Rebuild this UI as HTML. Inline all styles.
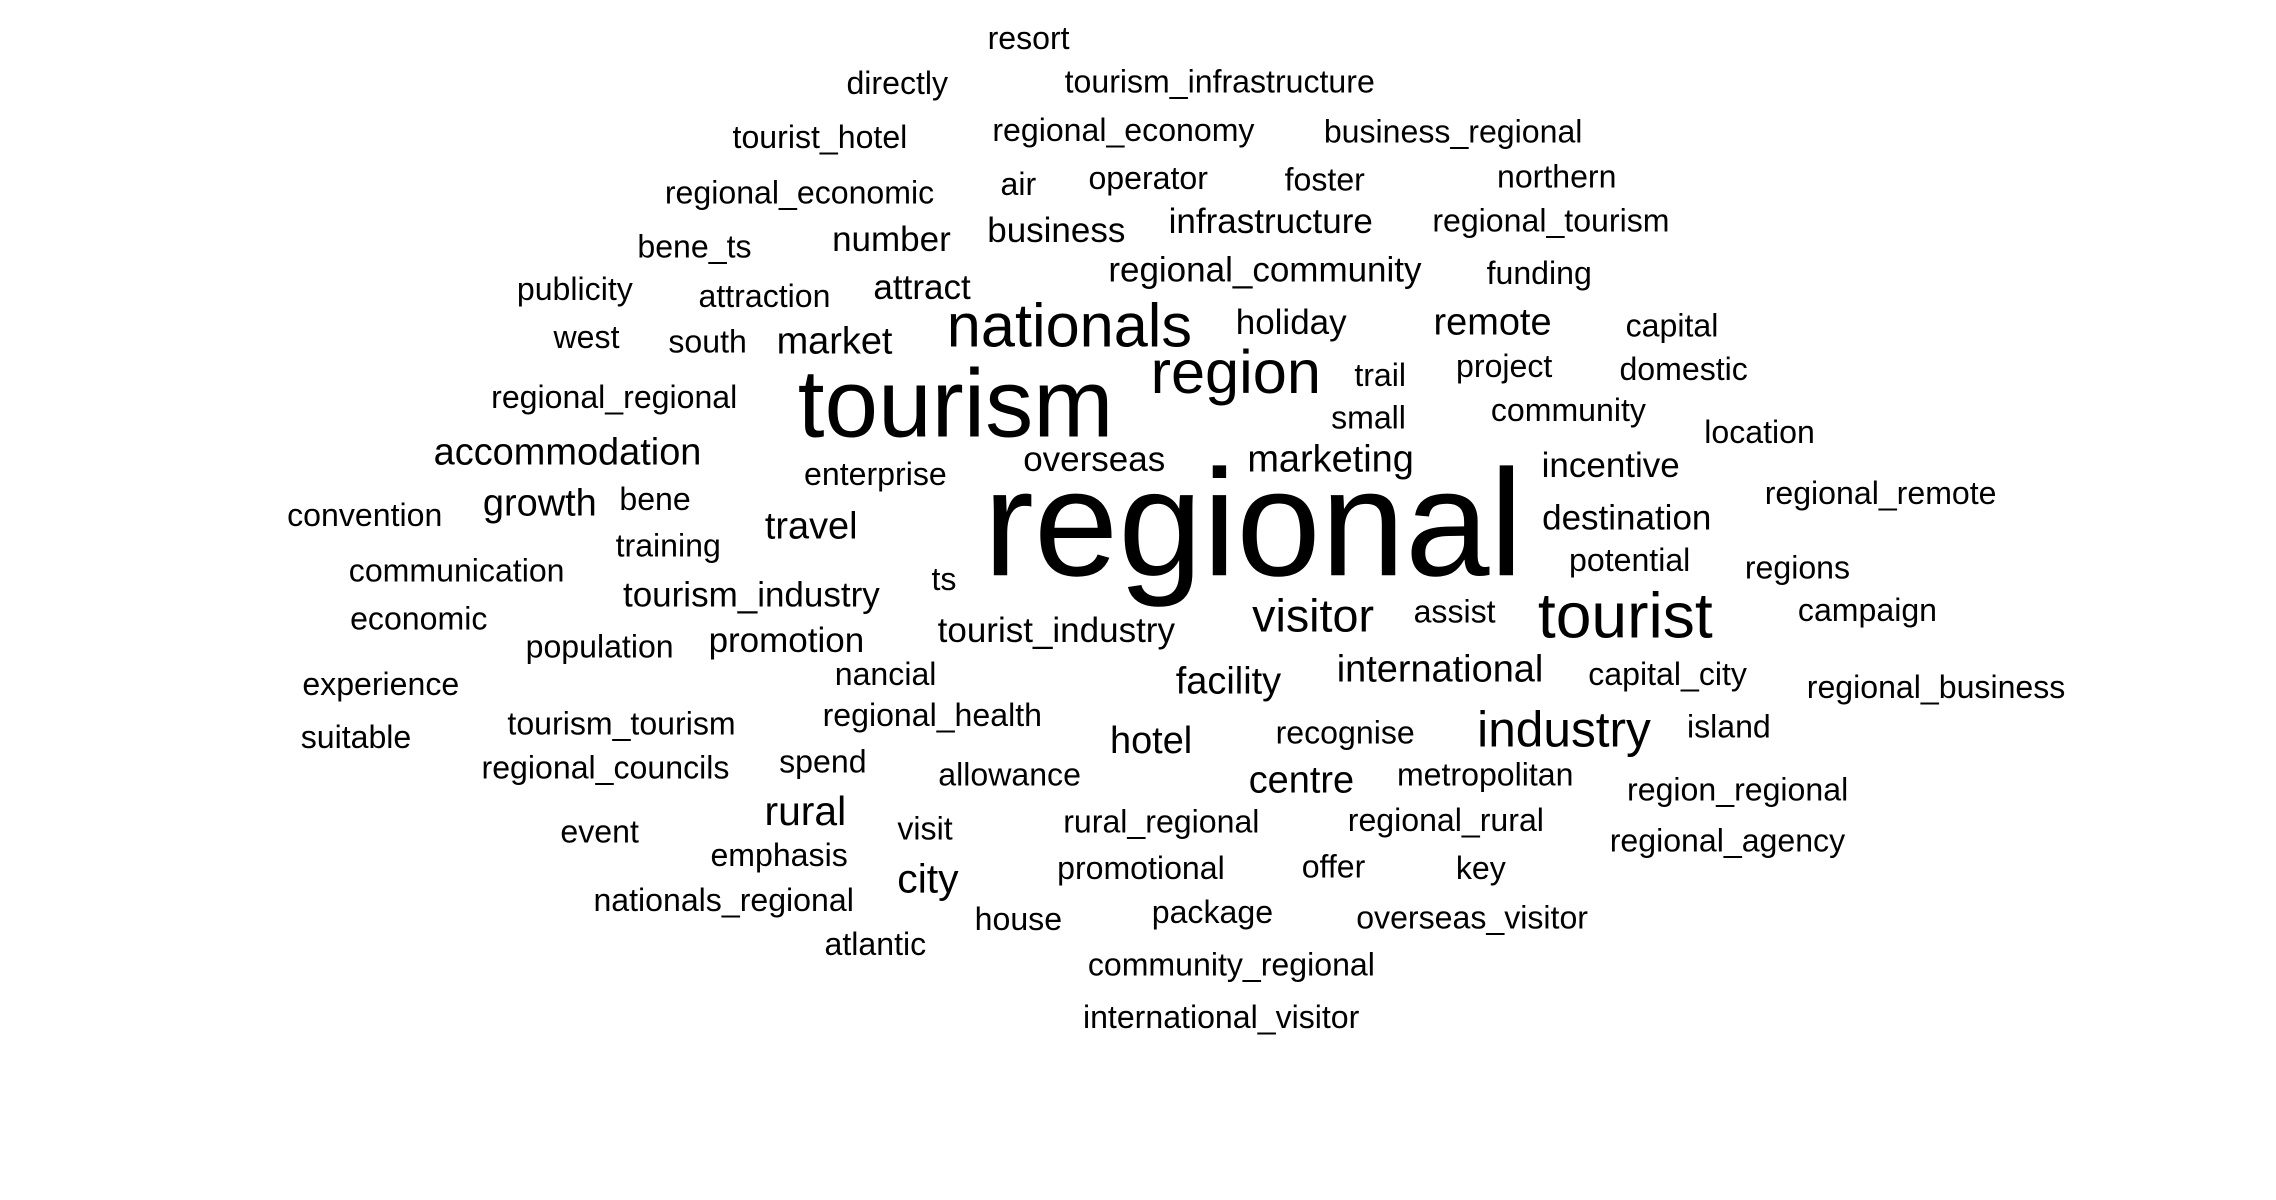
<!DOCTYPE html>
<html><head><meta charset="utf-8"><style>
html,body{margin:0;padding:0;background:#fff;width:2276px;height:1200px;overflow:hidden}
svg{display:block}
text{font-family:"Liberation Sans",sans-serif;fill:#000}
</style></head><body>
<svg width="2276" height="1200" viewBox="0 0 1560 822.5" preserveAspectRatio="none" xmlns="http://www.w3.org/2000/svg"><g id="cloud" transform="translate(-5,-3)"></g></svg>
<script>
const words = ["resort","directly","tourism_infrastructure","tourist_hotel","regional_economy","business_regional","regional_economic","air","operator","foster","northern","bene_ts","number","business","infrastructure","regional_tourism","publicity","attraction","attract","regional_community","funding","west","south","market","nationals","holiday","remote","capital","regional_regional","tourism","region","trail","project","domestic","small","community","location","accommodation","enterprise","overseas","marketing","incentive","convention","growth","bene","regional","destination","regional_remote","travel","training","potential","regions","communication","ts","tourism_industry","economic","population","promotion","tourist_industry","visitor","assist","tourist","campaign","experience","nancial","facility","international","capital_city","regional_business","suitable","tourism_tourism","regional_health","hotel","recognise","industry","island","regional_councils","spend","allowance","centre","metropolitan","region_regional","rural","event","visit","rural_regional","regional_rural","regional_agency","emphasis","city","promotional","offer","key","nationals_regional","house","package","overseas_visitor","atlantic","community_regional","international_visitor"];
const weights = [22,22,22,22,22,22,22,22,22,22,22,22,24,24,24,22,22,22,24,24,22,22,22,26,42,24,26,22,22,66,42,22,22,22,22,22,22,26,22,24,26,24,22,26,22,104,24,22,26,22,22,22,22,22,24,22,22,24,24,32,22,44,22,22,22,26,26,22,22,22,22,22,26,22,34,22,22,22,22,26,22,22,28,22,22,22,22,22,22,28,22,22,22,22,22,22,22,22,22,22];
const layoutX = [710,620,841,567,775,1001,553,703,792,913,1072,481,616,729,876,1068,399,529,637,872,1060,407,490,577,738,890,1028,1151,426,660,852,951,1036,1159,943,1080,1211,394,605,755,917,1109,255,375,454,864,1120,1294,561,463,1122,1237,318,652,520,292,416,544,729,905,1002,1119,1285,266,612,847,992,1148,1332,249,431,644,794,927,1077,1190,420,569,697,897,1023,1196,557,416,639,801,996,1189,539,641,787,919,1020,501,703,836,1014,605,849,842];
const layoutY = [29,60,59,97,92,93,135,129,125,126,124,172,167,161,155,154,201,206,200,188,190,234,237,237,226,224,224,226,275,280,258,260,254,256,289,284,299,313,328,318,318,322,356,348,345,362,358,341,364,377,387,392,394,400,411,427,446,442,435,425,422,425,421,472,465,470,462,465,474,508,499,493,511,505,503,501,529,525,534,538,534,544,559,573,571,566,565,579,589,605,598,597,598,620,633,628,632,650,664,700];
const g = document.getElementById('cloud');
const NS = 'http://www.w3.org/2000/svg';
for (let i = 0; i < words.length; i++) {
  const t = document.createElementNS(NS, 'text');
  t.setAttribute('x', layoutX[i]);
  t.setAttribute('y', layoutY[i]);
  t.setAttribute('text-anchor', 'middle');
  t.setAttribute('dominant-baseline', 'central');
  t.setAttribute('font-size', weights[i]);
  t.textContent = words[i];
  
  
  g.appendChild(t);
}
</script>
</body></html>
